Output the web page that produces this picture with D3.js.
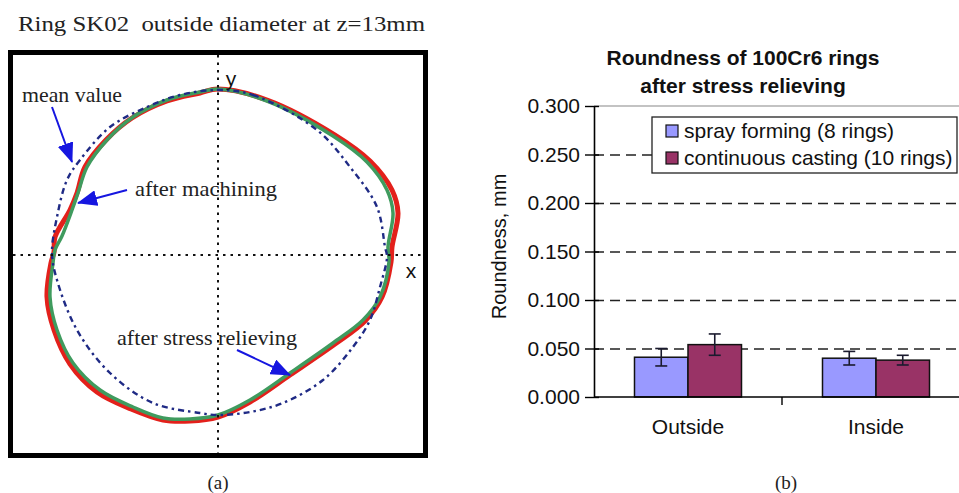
<!DOCTYPE html>
<html>
<head>
<meta charset="utf-8">
<script src="https://cdn.jsdelivr.net/npm/d3@7"></script>
<style>
  body { margin: 0; background: #fff; }
  svg { display: block; }
</style>
</head>
<body>
<div id="fig"></div>
<script>
// ---- (a) ring profile, offsets from the ring centre (arbitrary units) ----
const machinedX = [0, 49, 117, 152, 174, 180, 174, 173, 164, 147, 117, 72, 32, 0, -28, -55, -87, -121, -148, -164, -171, -167, -164, -163, -148, -141, -133, -112, -86, -51, -18];
const machinedY = [165, 154, 119, 93, 64, 41, 7, -8, -43, -67, -90, -121, -148, -163, -167, -166, -155, -138, -110, -76, -43, -9, 2, 17, 44, 61, 87, 114, 136, 153, 161];
const relievedX = [0, 49, 115, 149, 169, 175, 170, 171, 162, 145, 115, 72, 32, 0, -28, -55, -85, -118, -145, -161, -168, -165, -163, -156, -146, -140, -131, -111, -85, -51, -18];
const relievedY = [165, 153, 118, 92, 64, 41, 7, -8, -43, -66, -89, -119, -146, -161, -165, -164, -153, -136, -109, -76, -43, -9, 4, 18, 44, 61, 87, 114, 137, 154, 162];
const meanX = [0, 35, 99, 132, 159, 167, 169, 162, 152, 135, 105, 65, 32, 0, -18, -65, -108, -141, -161, -166, -161, -151, -138, -108, -71, -38];
const meanY = [164, 159, 124, 87, 47, 7, -3, -33, -66, -93, -126, -149, -158, -161, -159, -149, -119, -76, -26, 1, 37, 74, 94, 127, 147, 159];

const ringLabels = ["mean value", "after machining", "after stress relieving"];
const labelX = [-196, -83, -101];
const labelY = [152, 58, -91];
const labelW = [100, 142, 180];
const arrowFrom = [[-166, 147], [-91, 64], [19, -96]];
const arrowTo = [[-146, 92], [-140, 51], [72, -121]];

// ---- (b) roundness bars ----
const categories = ["Outside", "Inside"];
const series = ["spray forming (8 rings)", "continuous casting (10 rings)"];
const sprayMean = [0.041, 0.040];
const sprayErr = [0.009, 0.007];
const castMean = [0.054, 0.038];
const castErr = [0.011, 0.005];
const yTicks = [0, 0.05, 0.1, 0.15, 0.2, 0.25, 0.3];

const svg = d3.select("#fig").append("svg")
    .attr("width", 959)
    .attr("height", 493);

svg.append("rect").attr("width", 959).attr("height", 493).attr("fill", "#fff");

const fontSerif = "'Liberation Serif', 'Times New Roman', Times, serif";
const fontSans = "'Liberation Sans', Arial, sans-serif";

// ================= panel (a) =================
const sx = d3.scaleLinear().domain([-205, 205]).range([13, 423]);
const sy = d3.scaleLinear().domain([-199, 199]).range([453, 55]);

svg.append("text")
    .attr("x", 18)
    .attr("y", 31)
    .attr("textLength", 407)
    .attr("lengthAdjust", "spacingAndGlyphs")
    .style("font-family", fontSerif)
    .style("font-size", "22px")
    .style("fill", "#222")
    .text("Ring SK02\u00a0\u00a0outside diameter at z=13mm");

const ring = d3.line()
    .x(d => sx(d[0]))
    .y(d => sy(d[1]))
    .curve(d3.curveCatmullRomClosed.alpha(0.5));

const zip = (xs, ys) => xs.map((v, i) => [v, ys[i]]);

svg.append("path")
    .attr("d", ring(zip(machinedX, machinedY)))
    .attr("fill", "none")
    .attr("stroke", "#e3201b")
    .attr("stroke-width", 5);

svg.append("path")
    .attr("d", ring(zip(relievedX, relievedY)))
    .attr("fill", "none")
    .attr("stroke", "#3f9b5e")
    .attr("stroke-width", 3.5);

svg.append("path")
    .attr("d", ring(zip(meanX, meanY)))
    .attr("fill", "none")
    .attr("stroke", "#1f2a85")
    .attr("stroke-width", 2.4)
    .attr("stroke-dasharray", "6,4,2.5,4");

// dotted axes through the centre
const axisStyle = sel => sel
    .attr("stroke", "#111")
    .attr("stroke-width", 2)
    .attr("stroke-dasharray", "2.5,5");
svg.append("line")
    .attr("x1", sx(-205)).attr("x2", sx(205))
    .attr("y1", sy(-1)).attr("y2", sy(-1))
    .call(axisStyle);
svg.append("line")
    .attr("x1", sx(0)).attr("x2", sx(0))
    .attr("y1", sy(199)).attr("y2", sy(-199))
    .call(axisStyle);

svg.append("text")
    .attr("x", sx(13)).attr("y", sy(168))
    .attr("text-anchor", "middle")
    .style("font-family", fontSans)
    .style("font-size", "21px")
    .style("fill", "#111")
    .text("y");
svg.append("text")
    .attr("x", sx(193)).attr("y", sy(-24))
    .attr("text-anchor", "middle")
    .style("font-family", fontSans)
    .style("font-size", "21px")
    .style("fill", "#111")
    .text("x");

// frame
svg.append("rect")
    .attr("x", sx(-205) - 2.5)
    .attr("y", sy(199) - 2.5)
    .attr("width", sx(205) - sx(-205) + 5)
    .attr("height", sy(-199) - sy(199) + 5)
    .attr("fill", "none")
    .attr("stroke", "#000")
    .attr("stroke-width", 5);

// annotations with arrows
svg.append("defs").append("marker")
    .attr("id", "head")
    .attr("viewBox", "0 0 20 16")
    .attr("refX", 19)
    .attr("refY", 8)
    .attr("markerWidth", 20)
    .attr("markerHeight", 16)
    .attr("markerUnits", "userSpaceOnUse")
    .attr("orient", "auto")
  .append("path")
    .attr("d", "M0,0 L20,8 L0,16 Z")
    .attr("fill", "#1616e0");

ringLabels.forEach((t, i) => {
  svg.append("text")
      .attr("x", sx(labelX[i]))
      .attr("y", sy(labelY[i]))
      .attr("textLength", labelW[i])
      .attr("lengthAdjust", "spacingAndGlyphs")
      .style("font-family", fontSerif)
      .style("font-size", "21px")
      .style("fill", "#222")
      .text(t);
  svg.append("line")
      .attr("x1", sx(arrowFrom[i][0])).attr("y1", sy(arrowFrom[i][1]))
      .attr("x2", sx(arrowTo[i][0])).attr("y2", sy(arrowTo[i][1]))
      .attr("stroke", "#1616e0")
      .attr("stroke-width", 2)
      .attr("marker-end", "url(#head)");
});

svg.append("text")
    .attr("x", sx(0)).attr("y", 489)
    .attr("text-anchor", "middle")
    .style("font-family", fontSerif)
    .style("font-size", "19px")
    .style("fill", "#222")
    .text("(a)");

// ================= panel (b) =================
const plotLeft = 594, plotRight = 970, plotTop = 106, plotBottom = 397;

const y = d3.scaleLinear().domain([0, 0.3]).range([plotBottom, plotTop]);
const x0 = d3.scaleBand().domain(categories).range([plotLeft, plotRight]).padding(0);
const x1 = d3.scaleBand().domain(series).range([0, x0.bandwidth()])
    .paddingInner(0).paddingOuter(0.757);
const colors = d3.scaleOrdinal().domain(series).range(["#9999ff", "#993366"]);

const chart = svg.append("g");

// title
chart.append("text")
    .attr("x", 743).attr("y", 65)
    .attr("text-anchor", "middle")
    .style("font-family", fontSans)
    .style("font-weight", "bold")
    .style("font-size", "21px")
    .style("fill", "#111")
    .text("Roundness of 100Cr6 rings");
chart.append("text")
    .attr("x", 743).attr("y", 93)
    .attr("text-anchor", "middle")
    .style("font-family", fontSans)
    .style("font-weight", "bold")
    .style("font-size", "21px")
    .style("fill", "#111")
    .text("after stress relieving");

// gridlines
chart.append("g")
    .attr("transform", `translate(${plotLeft},0)`)
    .call(d3.axisLeft(y).tickValues(yTicks.filter(v => v > 0 && v < 0.3))
      .tickSize(-(plotRight - plotLeft)).tickFormat(""))
    .call(g => g.select(".domain").remove())
    .selectAll("line")
      .attr("stroke", "#222")
      .attr("stroke-width", 1.6)
      .attr("stroke-dasharray", "10,6");

chart.append("line")
    .attr("x1", plotLeft).attr("x2", plotRight)
    .attr("y1", y(0.3)).attr("y2", y(0.3))
    .attr("stroke", "#888")
    .attr("stroke-width", 1.2);

// bars
const rows = categories.map((c, i) => ({
  cat: c,
  vals: [
    {s: series[0], v: sprayMean[i], e: sprayErr[i]},
    {s: series[1], v: castMean[i], e: castErr[i]}
  ]
}));

const groups = chart.selectAll(".grp")
  .data(rows)
  .enter()
  .append("g")
    .attr("transform", d => `translate(${x0(d.cat)},0)`);

groups.selectAll("rect")
  .data(d => d.vals)
  .enter()
  .append("rect")
    .attr("x", d => x1(d.s))
    .attr("y", d => y(d.v))
    .attr("width", x1.bandwidth())
    .attr("height", d => y(0) - y(d.v))
    .attr("fill", d => colors(d.s))
    .attr("stroke", "#111")
    .attr("stroke-width", 1.5);

// error bars
const err = groups.selectAll(".err")
  .data(d => d.vals)
  .enter()
  .append("g")
    .attr("stroke", "#1a1a2e")
    .attr("stroke-width", 1.6);
err.append("line")
    .attr("x1", d => x1(d.s) + x1.bandwidth() / 2)
    .attr("x2", d => x1(d.s) + x1.bandwidth() / 2)
    .attr("y1", d => y(d.v + d.e))
    .attr("y2", d => y(d.v - d.e));
[1, -1].forEach(k => {
  err.append("line")
      .attr("x1", d => x1(d.s) + x1.bandwidth() / 2 - 6)
      .attr("x2", d => x1(d.s) + x1.bandwidth() / 2 + 6)
      .attr("y1", d => y(d.v + k * d.e))
      .attr("y2", d => y(d.v + k * d.e));
});

// y axis
const yAxis = chart.append("g")
    .attr("transform", `translate(${plotLeft},0)`)
    .call(d3.axisLeft(y).tickValues(yTicks).tickFormat(d3.format(".3f"))
      .tickSize(9).tickSizeOuter(0).tickPadding(5));
yAxis.select(".domain").attr("stroke", "#000").attr("stroke-width", 1.6);
yAxis.selectAll(".tick line").attr("x2", -9).attr("x1", 5)
    .attr("stroke", "#000").attr("stroke-width", 1.4);
yAxis.selectAll("text")
    .style("font-family", fontSans)
    .style("font-size", "21px")
    .style("fill", "#111");

// x axis line and category ticks
chart.append("line")
    .attr("x1", plotLeft).attr("x2", plotRight)
    .attr("y1", y(0)).attr("y2", y(0))
    .attr("stroke", "#000").attr("stroke-width", 1.6);
chart.selectAll(".xtick")
  .data(categories.slice(1))
  .enter()
  .append("line")
    .attr("x1", d => x0(d)).attr("x2", d => x0(d))
    .attr("y1", y(0)).attr("y2", y(0) + 8)
    .attr("stroke", "#000").attr("stroke-width", 1.4);
chart.selectAll(".xlab")
  .data(categories)
  .enter()
  .append("text")
    .attr("x", d => x0(d) + x0.bandwidth() / 2)
    .attr("y", 434)
    .attr("text-anchor", "middle")
    .style("font-family", fontSans)
    .style("font-size", "21px")
    .style("fill", "#111")
    .text(d => d);

// y label
chart.append("text")
    .attr("transform", `translate(506,${(plotTop + plotBottom) / 2 - 5}) rotate(-90)`)
    .attr("text-anchor", "middle")
    .style("font-family", fontSans)
    .style("font-size", "20px")
    .style("fill", "#111")
    .text("Roundness, mm");

// legend
const legend = chart.append("g");
legend.append("rect")
    .attr("x", 652).attr("y", 117)
    .attr("width", 305).attr("height", 56)
    .attr("fill", "#fff")
    .attr("stroke", "#222")
    .attr("stroke-width", 1.3);
series.forEach((s, i) => {
  legend.append("rect")
      .attr("x", 666).attr("y", 125 + i * 27)
      .attr("width", 12).attr("height", 12)
      .attr("fill", colors(s))
      .attr("stroke", "#111")
      .attr("stroke-width", 1.2);
  legend.append("text")
      .attr("x", 684).attr("y", 138 + i * 27)
      .style("font-family", fontSans)
      .style("font-size", "21px")
      .style("fill", "#111")
      .text(s);
});

chart.append("text")
    .attr("x", 786).attr("y", 489)
    .attr("text-anchor", "middle")
    .style("font-family", fontSerif)
    .style("font-size", "19px")
    .style("fill", "#222")
    .text("(b)");
</script>
</body>
</html>
